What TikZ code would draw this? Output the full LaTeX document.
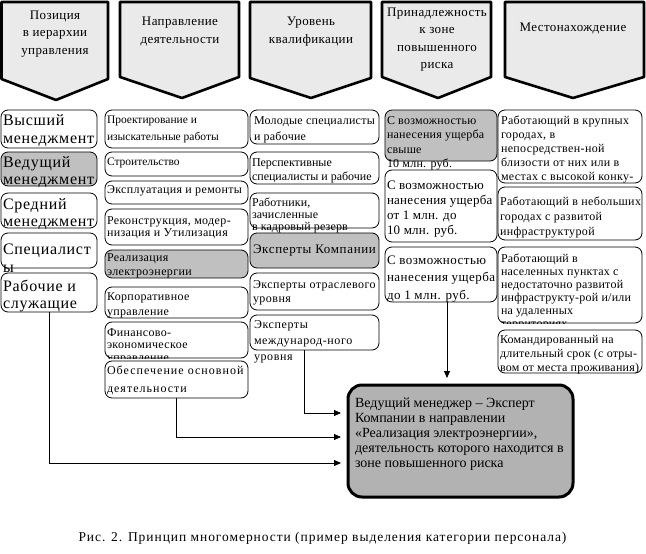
\documentclass[tikz,border=0pt]{standalone}
\usepackage{fontspec}
\setmainfont{Liberation Serif}
\usetikzlibrary{arrows.meta}
\definecolor{hdrgray}{RGB}{234,234,234}
\definecolor{boxgray}{RGB}{192,192,192}
\definecolor{maingray}{RGB}{178,178,178}
\tikzset{
 bxs/.style={inner sep=0pt, outer sep=0pt},
 bxline/.style={draw, line width=0.8pt},
 txt/.style={anchor=north west, inner sep=0pt, outer sep=0pt, align=left},
 htxt/.style={anchor=north, inner sep=0pt, outer sep=0pt, align=center,
   font=\fontsize{13}{17.5}\selectfont\addfontfeature{LetterSpace=3}},
 arr/.style={line width=0.8pt, -{Triangle[length=7pt,width=6pt]}, shorten >=7pt},
 chev/.style={draw, line width=2.6pt, fill=hdrgray, line join=round},
 mainbox/.style={draw, line width=3pt, rounded corners=14pt, fill=maingray, inner sep=0pt, outer sep=0pt},
}
% box: name, x1, y1, x2, y2, fill  (outline drawn with explicit arcs, r = 7)
\newcommand\bx[6]{\node[bxs, minimum width={(#4-#2)*1pt}, minimum height={(#5-#3)*1pt}] (#1) at ({(#2+#4)/2},{(#3+#5)/2}) {};
\draw[bxline, fill=#6] ({#2+7},#3) -- ({#4-7},#3) arc[start angle=90, end angle=0, radius=7pt] -- (#4,{#5-7}) arc[start angle=0, end angle=-90, radius=7pt] -- ({#2+7},#5) arc[start angle=-90, end angle=-180, radius=7pt] -- (#2,{#3+7}) arc[start angle=180, end angle=90, radius=7pt] -- cycle;}
% text: name, x, first baseline, size, skip, letterspace, text
\newcommand\tx[7]{\node[txt, font=\fontsize{#4}{#5}\selectfont\addfontfeature{LetterSpace=#6}] (#1) at (#2,{#3-#4}) {\rule{0pt}{#4pt}#7};}
% header text: name, center x, first baseline, text
\newcommand\htx[4]{\node[htxt] (#1) at (#2,{#3-13}) {\rule{0pt}{13pt}#4};}
\begin{document}
\begin{tikzpicture}[x=1pt,y=-1pt]
\useasboundingbox (0,0) rectangle (646,554);
% header chevrons
\draw[chev] (1.5,2) -- (108,2) -- (108,79) -- (56,100) -- (1.5,79) -- cycle;
\draw[chev] (120,2) -- (239,2) -- (239,77) -- (182,98) -- (120,77) -- cycle;
\draw[chev] (250,2) -- (371,2) -- (371,78) -- (311,98) -- (250,78) -- cycle;
\draw[chev] (382,2) -- (491,2) -- (491,77) -- (438,98) -- (382,77) -- cycle;
\draw[chev] (505,2) -- (644,2) -- (644,77) -- (573,98) -- (505,77) -- cycle;
\htx{h1}{55}{19}{Позиция\\в иерархии\\управления}
\htx{h2}{180}{26}{Направление\\деятельности}
\htx{h3}{311}{26}{Уровень\\квалификации}
\htx{h4}{437}{16}{Принадлежность\\к зоне\\повышенного\\риска}
\htx{h5}{573}{31}{Местонахождение}
% column 1
\bx{a1}{1}{110}{97}{148}{white}
\tx{ta1}{3}{125}{16}{18}{4.5}{Высший\\менеджмент}
\bx{a2}{1}{152}{97}{186}{boxgray}
\tx{ta2}{3}{167}{16}{17}{4.5}{Ведущий\\менеджмент}
\bx{a3}{1}{193}{97}{228}{white}
\tx{ta3}{3}{209}{16}{17}{4.5}{Средний\\менеджмент}
\bx{a4}{1}{233}{97}{268}{white}
\tx{ta4}{3}{254}{16}{18}{4.5}{Специалист\\ы}
\bx{a5}{1}{273}{97}{312}{white}
\tx{ta5}{3}{291}{16}{17}{4.5}{Рабочие и\\служащие}
% column 2
\bx{c1}{105}{110}{248}{148}{white}
\tx{tc1}{107}{123}{11.5}{17}{0}{Проектирование и\\изыскательные работы}
\bx{c2}{105}{152}{248}{176}{white}
\tx{tc2}{107}{165}{11.5}{14}{0}{Строительство}
\bx{c3}{105}{181}{248}{204}{white}
\tx{tc3}{107}{193}{12}{14}{3}{Эксплуатация и ремонты}
\bx{c4}{105}{209}{248}{245}{white}
\tx{tc4}{107}{224}{12}{12}{3}{Реконструкция, модер-\\низация и Утилизация}
\bx{c5}{105}{250}{248}{278}{boxgray}
\tx{tc5}{107}{261}{12}{14}{3}{Реализация\\электроэнергии}
\bx{c6}{105}{287}{248}{318}{white}
\tx{tc6}{107}{300}{12}{15}{3}{Корпоративное\\управление}
\bx{c7}{105}{322}{248}{358}{white}
\begin{scope}
\clip (c7.north west) rectangle (c7.south east);
\tx{tc7}{107}{336}{12}{12.5}{3}{Финансово-\\экономическое\\управление}
\end{scope}
\bx{c8}{105}{361}{248}{398}{white}
\tx{tc8}{107}{374}{12}{18}{8.5}{Обеспечение основной\\деятельности}
% column 3
\bx{d1}{250}{110}{379}{144}{white}
\tx{td1}{254}{124}{12}{16}{2}{Молодые специалисты\\и рабочие}
\bx{d2}{250}{152}{379}{184}{white}
\tx{td2}{252}{166}{12}{14}{0}{Перспективные\\специалисты и рабочие}
\bx{d3}{250}{193}{379}{228}{white}
\tx{td3}{252}{206}{12}{12}{1}{Работники,\\зачисленные\\в кадровый резерв}
\bx{d4}{250}{233}{379}{268}{boxgray}
\tx{td4}{253}{253}{13}{15}{5}{Эксперты Компании}
\bx{d5}{250}{273}{379}{310}{white}
\tx{td5}{253}{288}{12}{14}{4}{Эксперты отраслевого\\уровня}
\bx{d6}{250}{315}{379}{350}{white}
\tx{td6}{254}{328}{12}{16}{5}{Эксперты\\международ-ного\\уровня}
% column 4
\bx{e1}{385}{110}{497}{161}{boxgray}
\tx{te1}{387}{124}{12}{14.5}{2}{С возможностью\\нанесения ущерба\\свыше\\10 млн. руб.}
\bx{e2}{385}{170}{497}{242}{white}
\tx{te2}{387}{189}{13}{15}{2}{С возможностью\\нанесения ущерба\\от 1 млн. до\\10 млн. руб.}
\bx{e3}{385}{247}{497}{302}{white}
\tx{te3}{387}{264}{13}{17.5}{3.5}{С возможностью\\нанесения ущерба\\до 1 млн. руб.}
% column 5
\bx{f1}{498}{110}{642}{183}{white}
\begin{scope}
\clip (f1.north west) rectangle (f1.south east);
\tx{tf1}{501}{124}{12}{14.2}{3}{Работающий в крупных\\городах, в\\непосредствен-ной\\близости от них или в\\местах с высокой конку-\\ренцией на рынке труда}
\end{scope}
\bx{f2}{498}{187}{642}{240}{white}
\tx{tf2}{500}{205}{12}{15}{3}{Работающий в небольших\\городах с развитой\\инфраструктурой}
\bx{f3}{498}{247}{642}{323}{white}
\begin{scope}
\clip (f3.north west) rectangle (f3.south east);
\tx{tf3}{501}{262}{12}{13}{2}{Работающий в\\населенных пунктах с\\недостаточно развитой\\инфраструкту-рой и/или\\на удаленных\\территориях}
\end{scope}
\bx{f4}{498}{330}{642}{373}{white}
\tx{tf4}{500}{343}{12}{14}{2}{Командированный на\\длительный срок (с отры-\\вом от места проживания)}
% main box
\node[mainbox, minimum width=225pt, minimum height=112pt] (g) at (460.5,441) {};
\tx{tg}{355}{407}{14}{15}{0}{Ведущий менеджер – Эксперт\\Компании в направлении\\«Реализация электроэнергии»,\\деятельность которого находится в\\зоне повышенного риска}
% connectors
\coordinate (e3b) at ([xshift=6pt]e3.south);
\coordinate (d6b) at ([xshift=-10pt]d6.south);
\draw[arr] (e3b) -- (e3b |- g.north);
\draw[arr] (d6b) |- ([yshift=28pt]g.west);
\draw[arr] (c8.south) |- ([yshift=4pt]g.west);
\draw[arr] (a5.south) |- ([yshift=-22pt]g.west);
% caption
\node[anchor=base, inner sep=0pt, font=\fontsize{13.5}{16}\selectfont\addfontfeature{LetterSpace=7}] (cap) at (322.5,541) {Рис. 2. Принцип многомерности (пример выделения категории персонала)};
\end{tikzpicture}
\end{document}
